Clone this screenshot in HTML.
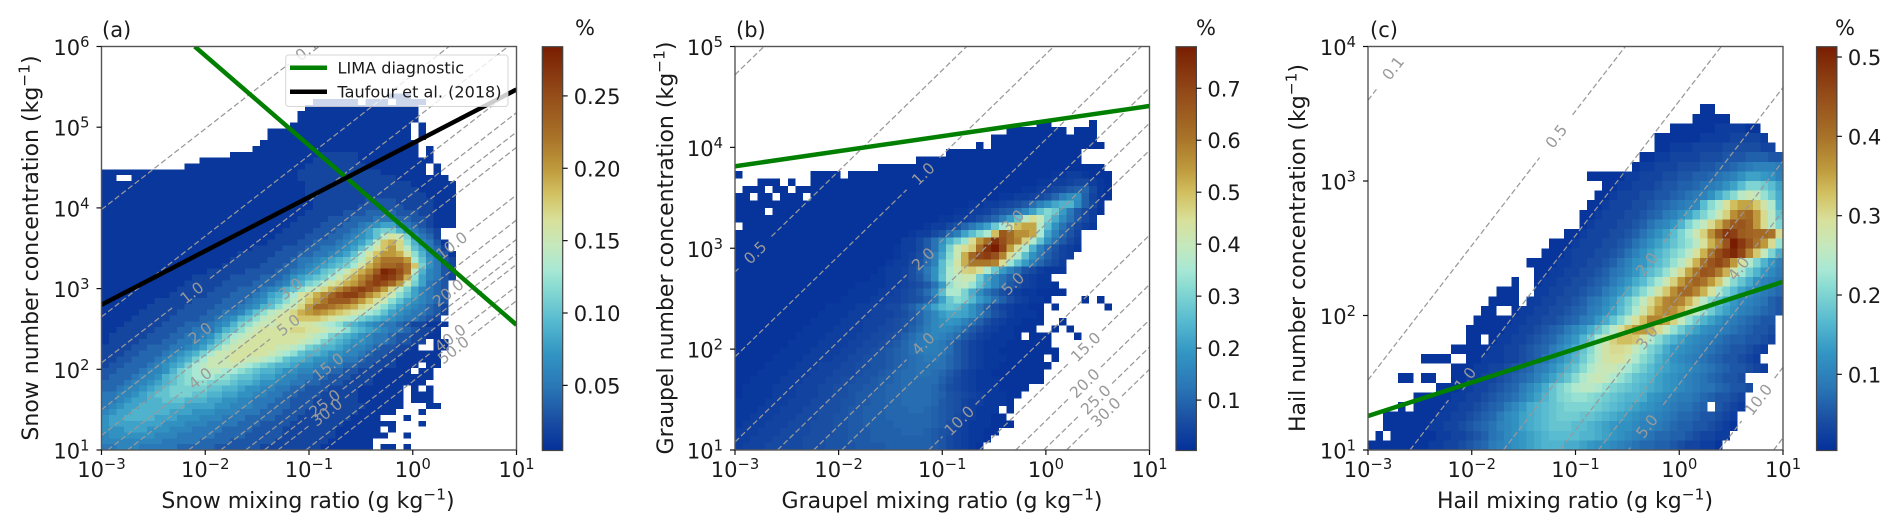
<!DOCTYPE html>
<html lang="en">
<head>
<meta charset="utf-8">
<title>Number concentration versus mixing ratio</title>
<style>
html,body{margin:0;padding:0;background:#fff;width:1892px;height:532px;overflow:hidden}
svg{display:block;filter:blur(.35px)}
text{font-family:"DejaVu Sans","Liberation Sans",sans-serif;fill:#1a1a1a}
</style>
</head>
<body>
<svg id="fig" xmlns="http://www.w3.org/2000/svg" width="1892" height="532" viewBox="0 0 1892 532">
  <defs>
    <clipPath id="clip-a"><rect x="101.5" y="46.5" width="415" height="403.5"/></clipPath>
    <clipPath id="clip-b"><rect x="735" y="46.5" width="414.5" height="403.5"/></clipPath>
    <clipPath id="clip-c"><rect x="1368" y="46.5" width="415" height="403.5"/></clipPath>
  </defs>
  <g id="panel-a"></g>
  <g id="panel-b"></g>
  <g id="panel-c"></g>

  <text x="102" y="37" font-size="21">(a)</text>
  <text x="736" y="37" font-size="21">(b)</text>
  <text x="1370" y="37" font-size="21">(c)</text>

  <text x="308" y="508" font-size="22" text-anchor="middle">Snow mixing ratio (g kg<tspan dy="-8.5" font-size="15.4">−1</tspan><tspan dy="8.5">)</tspan></text>
  <text x="942" y="508" font-size="22" text-anchor="middle">Graupel mixing ratio (g kg<tspan dy="-8.5" font-size="15.4">−1</tspan><tspan dy="8.5">)</tspan></text>
  <text x="1575" y="508" font-size="22" text-anchor="middle">Hail mixing ratio (g kg<tspan dy="-8.5" font-size="15.4">−1</tspan><tspan dy="8.5">)</tspan></text>

  <text transform="translate(38,248) rotate(-90)" font-size="22" text-anchor="middle">Snow number concentration (kg<tspan dy="-8.5" font-size="15.4">−1</tspan><tspan dy="8.5">)</tspan></text>
  <text transform="translate(673,248) rotate(-90)" font-size="22" text-anchor="middle">Graupel number concentration (kg<tspan dy="-8.5" font-size="15.4">−1</tspan><tspan dy="8.5">)</tspan></text>
  <text transform="translate(1305,248) rotate(-90)" font-size="22" text-anchor="middle">Hail number concentration (kg<tspan dy="-8.5" font-size="15.4">−1</tspan><tspan dy="8.5">)</tspan></text>

  <text x="575" y="35" font-size="21">%</text>
  <text x="1196" y="35" font-size="21">%</text>
  <text x="1835" y="35" font-size="21">%</text>

  <g id="legend">
    <rect x="285.7" y="55" width="222.3" height="51.5" rx="3" fill="#fff" fill-opacity=".8" stroke="#ccc" stroke-opacity=".8" stroke-width="1"/>
    <line x1="290" y1="67.7" x2="327" y2="67.7" stroke="#007f00" stroke-width="4.5"/>
    <text x="337.5" y="73.5" font-size="16.1">LIMA diagnostic</text>
    <line x1="290" y1="91.7" x2="327" y2="91.7" stroke="#000" stroke-width="4.5"/>
    <text x="337.5" y="97.5" font-size="16.1">Taufour et al. (2018)</text>
  </g>
</svg>

<script>
// ---------- shared values ----------
const xTickExponents = [-3, -2, -1, 0, 1];
const cmapStops = [
  [0, '#04309a'], [0.076, '#1a4fa3'], [0.158, '#2a77b6'], [0.24, '#3295c3'], [0.32, '#56bad0'],
  [0.406, '#8adcd2'], [0.447, '#a8e8d4'], [0.505, '#c4e8bd'], [0.57, '#d8e09a'], [0.637, '#d2c060'],
  [0.695, '#bf9b3d'], [0.777, '#a87228'], [0.876, '#954e1a'], [0.983, '#7d2505'], [1, '#7a1c02']
];

// ---------- panel (a) snow ----------
const snowYTickExponents = [1, 2, 3, 4, 5, 6];
const snowColorbarTicks = ['0.05', '0.10', '0.15', '0.20', '0.25'];
const snowLevels = [0.1, 0.5, 1, 2, 3, 4, 5, 10, 15, 20, 25, 30, 40, 50];
const snowContourLogN = [3.98, 2.65, 2.08, 1.5, 1.18, 0.94, 0.75, 0.16, -0.15, -0.39, -0.57, -0.7, -0.97, -1.15];
const snowLabelLogQ = [-1.02, null, -2.13, -2.05, -1.18, -2.05, -1.2, 0.374, -0.817, 0.34, -0.85, -0.83, 0.36, 0.39];
const snowLimaQ = [0.001, 10];
const snowLimaN = [10000000, 355];
const snowTaufourQ = [0.001, 10];
const snowTaufourN = [631, 293000];
const snowSpans = [
[[0,35],[37,38],[40,40]],[[0,35]],[[0,37],[40,40]],[[0,36],[38,38]],[[0,38],[42,42]],[[0,36],[40,40]],[[0,38],[42,42]],
[[0,39],[43,44]],[[0,39],[41,43]],[[0,39],[41,43]],[[0,39],[41,41],[43,43]],[[0,42]],[[0,43]],[[0,40],[42,43]],[[0,41],[43,44]],
[[0,44]],[[0,44]],[[0,41],[44,45]],[[0,42],[44,45]],[[0,44]],[[0,44]],[[0,45]],[[0,44]],[[0,45]],[[0,45]],[[0,45]],[[0,45]],[[0,45]],[[0,45]],
[[0,46]],[[0,46]],[[0,46]],[[0,46]],[[0,46]],[[0,45]],[[0,45]],[[0,44]],[[0,44]],
[[0,46]],[[0,46]],[[0,46]],[[0,46]],[[0,46]],[[0,46]],[[0,46]],[[0,46]],
[[0,1],[4,45]],[[0,42],[44,44]],[[11,42],[44,44]],[[13,43]],[[17,41],[43,43]],[[20,41],[43,43]],[[21,41]],
[[22,40],[42,42]],[[22,40],[42,42]],[[25,40],[42,42]],[[26,41]],[[26,41]],[[27,41]],
[[28,33],[35,37],[39,42]],[[38,40]]
];
const snowCore = [
[0,5,5,6,6,6,5,5,5,5,5,4,4,4,4,4,3,3,3,3,3,3,2,2,2,2,2,2,2,2],
[0,6,6,6,6,6,6,6,6,5,5,5,5,5,4,4,4,4,3,3,3,3,3,3,2,2,2,2,2,2,2],
[0,6,7,7,7,7,7,7,6,6,6,5,5,5,5,5,4,4,4,4,3,3,3,3,3,2,2,2,2,2,2,2],
[0,7,7,7,8,8,8,7,7,7,6,6,6,5,5,5,5,4,4,4,4,3,3,3,3,2,2,2,2,2,2,2],
[0,7,8,8,8,8,8,8,8,7,7,7,6,6,6,5,5,5,5,4,4,4,3,3,3,3,2,2,2,2,2,2,2],
[0,7,8,8,9,9,9,9,8,8,8,7,7,7,6,6,6,5,5,5,4,4,4,4,3,3,3,2,2,2,2,2,2,2],
[0,6,7,8,8,9,9,9,9,9,8,8,8,7,7,7,6,6,6,5,5,5,4,4,4,3,3,3,2,2,2,2,2,2,2],
[0,5,6,7,8,8,9,9,9,9,9,9,8,8,8,8,7,7,6,6,6,5,5,4,4,4,3,3,3,2,2,2,2,2,2,2],
[0,5,5,6,7,8,8,9,9,10,10,10,9,9,9,8,8,7,7,6,6,5,5,5,4,4,3,3,3,2,2,2,2,2,2],
[0,5,5,6,6,7,8,9,10,10,11,11,11,10,10,9,9,8,8,7,7,6,6,5,5,4,4,3,3,3,2,2,2,2,2],
[0,4,4,5,6,6,7,8,9,10,11,11,11,11,11,10,10,9,9,8,7,7,6,6,5,5,4,4,3,3,3,2,2,2,2],
[0,4,4,4,5,6,6,7,8,9,10,11,12,12,12,11,11,11,10,9,9,8,7,7,6,6,5,5,4,4,3,3,3,2,2,2,2],
[0,3,4,4,4,5,6,6,7,9,10,11,12,13,13,13,12,12,11,10,10,9,8,8,7,6,6,5,5,4,4,3,3,3,2,2,2],
[0,3,3,4,4,4,5,6,6,7,9,11,12,13,14,14,14,13,13,12,11,10,9,9,8,7,7,6,6,5,5,4,4,3,3,2,2,2],
[0,2,3,3,4,4,4,5,6,7,8,9,11,13,14,15,15,15,15,14,13,12,11,10,9,9,8,7,7,6,6,5,5,4,4,3,3,2,2,2],
[0,2,2,3,3,4,4,4,5,6,7,8,9,11,13,15,15,15,16,16,15,15,14,13,12,10,9,9,8,7,7,6,6,5,5,4,3,3,2,2],
[0,2,2,2,3,3,4,4,4,5,6,7,8,9,11,13,15,15,16,16,16,16,16,15,14,13,12,10,9,9,8,7,7,6,6,5,4,3,3,2,2],
[0,2,2,2,2,3,3,4,4,4,5,5,6,7,8,10,12,14,15,16,16,16,16,16,15,15,14,13,11,10,9,9,8,7,6,6,5,4,3,3,2,2],
[1,2,2,2,2,3,3,3,4,4,5,5,6,7,8,10,12,14,15,16,16,16,16,16,16,16,15,14,13,11,10,9,8,7,7,6,5,5,4,3,3,2,2],
[1,2,2,2,2,2,3,3,3,4,4,5,5,6,7,9,11,13,14,15,16,16,16,16,16,16,16,15,14,13,11,10,9,8,7,6,5,5,4,3,3,2,2],
[2,2,2,2,2,2,3,3,3,4,4,5,5,5,7,9,10,12,14,15,16,16,16,16,17,17,16,16,15,14,13,12,10,9,8,7,6,5,5,4,3,2,2],
[3,2,2,2,2,2,3,3,3,4,4,4,5,6,7,9,11,12,14,15,15,16,16,16,16,16,15,14,13,12,10,9,8,7,6,5,5,4,3,2,2],
[4,2,2,2,2,2,3,3,3,3,4,4,5,6,7,9,10,12,14,15,16,16,17,18,18,18,17,16,15,14,13,11,10,9,8,7,6,5,5,4,3,2,2],
[5,2,2,2,2,2,3,3,3,3,4,4,5,5,6,8,10,12,14,15,16,17,19,20,21,20,19,18,17,16,15,13,12,10,8,7,6,5,5,4,3,2,2],
[6,2,2,2,2,2,3,3,3,3,4,4,4,5,6,7,9,10,12,14,15,17,20,23,23,22,21,20,19,17,16,14,12,10,8,7,6,5,4,3,2],
[7,2,2,2,2,2,3,3,3,3,4,4,4,5,6,7,9,10,12,14,16,18,20,22,24,24,24,22,20,18,16,15,12,10,8,7,6,5,4,3],
[9,2,2,2,2,2,3,3,3,4,4,4,5,6,8,9,11,13,16,17,19,21,23,25,26,26,24,21,19,17,15,12,10,8,6,5,4,3],
[10,2,2,2,2,2,3,3,3,4,4,4,5,6,7,9,10,12,14,15,17,19,21,23,25,26,25,23,20,17,14,11,8,6,5,4,3],
[11,2,2,2,2,2,3,3,3,3,4,4,4,5,6,8,9,11,12,14,16,17,19,20,22,25,26,25,23,20,15,11,8,5,4,3,2],
[12,2,2,2,2,2,3,3,3,3,4,4,4,5,7,8,9,10,11,13,15,17,19,21,23,26,27,26,24,19,12,8,6,5,3,2],
[14,2,2,2,2,2,3,3,3,3,4,4,5,6,7,8,10,11,13,15,17,19,21,24,28,27,25,22,14,9,6,5,3,2],
[16,2,2,2,2,2,3,3,3,4,4,5,6,7,8,9,10,11,13,16,19,21,23,23,24,22,18,11,7,5,3,2],
[17,2,2,2,2,2,3,3,3,4,5,5,6,7,8,9,10,12,14,17,20,22,22,22,20,13,10,7,5,3,2],
[18,2,2,2,2,2,3,3,3,4,4,5,5,6,7,8,10,13,16,18,20,20,19,16,12,9,6,4,3],
[20,2,2,2,2,3,3,3,4,4,5,5,6,7,8,10,13,16,18,20,17,14,10,8,5,4,2],
[22,2,2,2,2,3,3,4,4,4,5,6,7,8,10,14,18,19,17,12,9,6,5,3],
[23,2,2,2,2,3,3,3,4,4,5,6,7,8,10,14,16,15,11,7,5,4,2],
[24,2,2,2,2,3,3,3,4,4,5,6,8,10,11,11,9,7,5,4,3,2],
[25,2,2,2,2,3,3,3,4,4,5,6,7,8,8,6,5,4,3,2],
[26,2,2,2,2,3,3,3,4,4,4,5,5,5,4,4,3,3,2],
[27,2,2,2,2,2,3,3,3,4,4,4,4,3,3,3,2,2],
[28,2,2,2,2,2,2,3,3,3,3,3,3,2,2,2,2],
[28,2,2,2,2,2,2,2,3,3,3,3,2,2,2,2,2],
[27,2,2,2,2,2,2,2,2,2,2,2,2,2,2,2,2],
[27,2,2,2,2,2,2,2,2,2,2,2,2,2,2,2],
[27,2,2,2,2,2,2,2,2,2,2,2,2,2,2],
[26,2,2,2,2,2,2,2,2,2,2,2,2,2],
[26,2,2,2,2,2,2,2,2,2,2,2],
[27,2,2,2,2,2,2,2,2],
[28,2,2,2,2,2,2],
[29,2,2,2,2,2]
];

// ---------- panel (b) graupel ----------
const graupelYTickExponents = [1, 2, 3, 4, 5];
const graupelColorbarTicks = ['0.1', '0.2', '0.3', '0.4', '0.5', '0.6', '0.7'];
const graupelLevels = [0.1, 0.5, 1, 2, 3, 4, 5, 10, 15, 20, 25, 30];
const graupelContourLogN = [4.72, 2.765, 1.924, 1.08, 0.59, 0.24, -0.03, -0.87, -1.36, -1.71, -1.98, -2.2];
const graupelLabelLogQ = [null, -2.807, -1.185, -1.185, -0.32, -1.185, -0.32, -0.838, 0.383, 0.373, 0.48, 0.576];
const graupelLimaQ = [0.001, 10];
const graupelLimaN = [6500, 25700];
const graupelSpans = [
[[0,32]],[[0,33]],[[0,34]],[[0,36]],[[0,35]],[[0,34],[36,36]],[[0,36]],[[0,37]],[[0,38]],[[0,40]],[[0,40]],[[0,41]],
[[0,40],[42,42]],[[0,42]],[[0,41]],[[0,37],[39,41],[45,45]],[[0,39],[42,42],[44,44]],[[0,40],[43,43]],[[0,40]],[[0,40],[42,42],[49,49]],
[[0,41],[46,46],[48,48]],[[0,43]],[[0,42]],[[0,41]],[[0,43]],[[0,43]],[[0,44]],[[0,45]],[[0,45]],[[0,45]],[[1,47]],[[0,47]],
[[0,3],[5,48]],[[0,48]],[[0,1],[3,4],[6,8],[10,49]],[[1,3],[5,6],[8,49]],[[3,5],[7,7],[10,49]],[[0,0],[10,12],[13,13],[15,49]],
[[19,48]],[[24,45]],[[28,45]],[[32,32],[34,46],[47,48]],[[34,43],[44,47]],[[36,43],[45,47]],[[40,41],[47,47]]
];
const graupelCore = [
[0,3,4,4,4,5,5,5,5,5,6,6,6,7,7,7,7,8,8,8,8,9,9,9,9,9,9,8,7,5,4,3,2],
[0,3,3,4,4,4,5,5,5,5,6,6,6,7,7,7,8,8,8,9,9,9,9,9,9,9,9,8,7,5,4,3,2,2],
[0,3,3,3,4,4,4,5,5,5,5,6,6,6,7,7,8,8,8,9,9,9,9,10,10,10,9,8,7,6,4,3,2,2],
[0,2,3,3,3,4,4,4,5,5,5,6,6,6,7,7,8,8,9,9,9,9,10,10,10,10,10,9,8,6,5,3,2,2,2],
[0,2,2,3,3,3,4,4,4,5,5,5,6,6,7,7,8,8,9,9,9,10,10,10,10,10,10,9,8,7,5,4,3,2,2],
[0,2,2,2,3,3,3,4,4,4,5,5,6,6,6,7,8,8,9,9,9,10,10,10,11,11,10,9,8,7,6,4,3,2,2,2],
[0,2,2,2,2,3,3,3,4,4,4,5,5,6,6,7,7,8,8,9,9,10,10,11,11,11,11,10,8,7,6,4,3,3,2,2,2],
[0,1,2,2,2,2,3,3,3,4,4,4,5,5,6,6,7,8,8,9,9,10,10,11,11,11,11,10,9,7,6,5,4,3,2,2,2],
[1,2,2,2,2,3,3,3,4,4,4,5,5,6,6,7,7,8,8,9,10,10,11,11,11,11,10,8,6,5,4,3,2,2,2],
[2,2,2,2,2,3,3,3,4,4,4,5,5,6,6,7,7,8,9,9,10,11,11,11,11,11,9,7,5,4,3,2,2,2],
[3,2,2,2,2,3,3,3,4,4,4,5,5,5,6,7,7,8,9,10,11,11,12,12,11,10,8,6,4,3,2,2],
[4,2,2,2,2,3,3,3,4,4,4,5,5,6,6,7,7,8,9,10,11,12,12,12,12,10,8,6,4,3,2,2],
[5,2,2,2,2,3,3,3,3,4,4,5,5,6,7,7,8,9,10,11,12,13,13,12,10,8,6,4,3,2,2,2],
[6,2,2,2,2,3,3,3,3,4,4,5,5,6,7,8,9,10,12,13,14,14,13,11,8,6,4,3,2,2],
[7,2,2,2,2,3,3,3,3,4,4,5,5,6,7,8,10,12,13,14,14,13,11,8,6,4,3,2,2,2],
[8,2,2,2,2,3,3,3,3,4,4,5,5,6,7,9,11,13,15,16,15,13,11,8,6,4,3,2,2,2],
[9,2,2,2,2,3,3,3,3,4,4,5,5,6,7,9,11,14,16,17,16,14,11,8,6,4,3,2,2],
[10,2,2,2,2,3,3,3,4,4,4,5,6,7,8,10,13,16,18,19,18,15,12,9,6,4,3,2,2],
[11,2,2,2,2,3,3,3,4,4,4,5,6,8,10,13,16,20,22,22,21,18,14,10,7,5,3,2,2,2],
[12,2,2,2,2,3,3,4,4,5,5,7,9,12,16,21,25,27,26,22,18,13,9,6,4,3,2,2],
[14,2,2,2,2,3,3,4,4,5,6,7,9,13,21,28,32,30,25,20,16,12,9,6,4,3,2,2],
[15,2,2,2,2,3,3,4,5,6,8,11,16,26,36,36,30,23,17,12,9,6,4,3,2,2],
[16,2,2,2,2,3,3,4,5,6,8,12,20,33,38,39,34,27,21,16,12,8,6,4,3,2,2],
[18,2,2,3,3,4,6,8,12,18,27,36,39,41,41,29,22,16,12,9,6,4,3,2,2],
[19,2,3,3,4,6,9,13,18,26,36,41,47,48,45,36,28,20,15,11,7,5,3,2,2,2],
[20,2,3,3,5,7,11,15,26,34,43,52,60,60,60,58,45,34,26,20,14,10,7,5,3,2,2],
[21,2,3,4,6,10,15,22,32,41,52,63,70,72,68,58,45,37,26,18,13,9,6,4,3,2],
[21,2,3,3,5,8,12,20,30,41,45,48,62,74,78,70,54,45,35,24,15,10,7,4,3,2],
[22,3,3,5,8,12,18,24,29,34,45,55,62,74,68,62,58,47,37,27,18,12,8,5,3,2],
[23,2,3,3,5,7,11,14,21,26,31,36,50,66,62,56,56,53,35,22,15,10,7,4,3],
[25,2,3,3,5,7,10,13,17,21,28,35,42,50,53,53,37,26,18,12,8,5,3,2],
[27,2,2,3,3,4,6,8,10,14,20,27,38,45,40,30,23,17,12,8,5,3],
[29,2,2,3,3,4,6,8,9,12,16,21,27,31,28,20,13,8,5,3],
[31,2,2,3,3,4,5,6,8,11,15,18,22,24,24,17,9,5,2],
[35,2,2,3,3,4,5,7,10,14,17,18,9,4,2],
[38,2,2,3,4,5,6,8,9,10,5,2],
[40,2,2,3,3,4,5,5,3,2],
[42,2,2,3,3,2]
];

// ---------- panel (c) hail ----------
const hailYTickExponents = [1, 2, 3, 4];
const hailColorbarTicks = ['0.1', '0.2', '0.3', '0.4', '0.5'];
const hailLevels = [0.1, 0.5, 1, 2, 3, 4, 5, 10, 15];
const hailContourLogN = [3.6, 1.52, 0.595, -0.305, -0.851, -1.221, -1.51, -2.385, -2.91];
const hailLabelLogQ = [-2.76, -1.187, -2.065, -0.313, -0.313, 0.571, -0.313, 0.76, null];
const hailLimaQ = [0.001, 10];
const hailLimaN = [17.9, 178];
const hailSpans = [
[[0,46]],[[1,1],[3,47]],[[2,48]],[[2,48]],[[4,4],[6,44],[46,49]],[[6,49]],[[9,50]],[[4,5],[7,8],[11,49]],[[11,52]],
[[7,8],[9,10],[13,51]],[[11,12],[13,52]],[[13,14],[16,53]],[[13,53]],[[14,53]],[[15,16],[19,54]],[[16,19],[21,54]],
[[17,18],[19,19],[22,54]],[[19,19],[22,54]],[[22,54]],[[21,54]],[[23,54]],[[24,54]],[[26,54]],[[28,54]],[[28,54]],[[29,54]],
[[30,54]],[[31,54]],[[29,31],[32,54]],[[35,54]],[[36,54]],[[38,53]],[[38,52]],[[40,49],[50,51]],[[43,45],[46,47]],[[44,45]]
];
const hailCore = [
[8,2,2,3,3,4,5,6,7,9,10,11,12,13,14,15,16,16,16,15,15,14,13,12,12,11,10,9,8,7,7,6,6,5,4,3,3,2,2],
[9,2,2,3,3,4,5,6,8,9,11,12,13,14,15,16,17,17,17,17,16,16,15,14,13,12,11,10,9,8,7,7,6,6,5,4,3,3,2,2],
[8,2,2,3,3,4,5,6,7,8,10,11,12,14,15,16,17,18,18,18,17,17,16,15,14,13,12,12,11,10,10,9,8,7,6,6,5,5,4,3,2],
[9,2,2,3,3,4,5,6,7,9,11,12,14,15,16,17,18,19,19,19,18,18,17,16,15,14,13,12,11,11,10,9,8,7,7,6,5,5,4,3,2],
[10,2,2,3,3,4,5,6,7,9,11,13,15,16,17,18,19,20,20,20,20,19,18,17,16,15,14,13,12,11,10,9,8,8,7,6,6,5,4,3,2],
[11,2,2,3,3,4,5,6,7,8,10,12,14,16,18,20,21,22,22,21,20,19,18,17,16,16,15,13,12,11,10,9,9,8,7,6,5,5,4,3,2],
[12,2,2,3,3,4,5,6,7,9,11,13,15,18,20,22,24,25,25,24,22,20,19,18,17,16,15,14,13,12,11,10,9,8,8,7,6,5,5,4,3,2],
[13,2,2,3,3,4,5,6,7,8,10,12,14,16,18,21,24,26,27,26,24,22,20,18,17,16,14,13,12,11,10,9,8,7,6,5,5,4,3,2],
[14,2,2,3,3,4,5,6,7,9,10,12,14,16,18,21,24,26,27,27,25,23,21,19,17,15,14,13,12,11,10,9,8,7,6,5,5,4,3,2],
[15,2,2,2,3,3,4,5,6,8,10,12,14,16,19,22,25,28,29,29,27,24,21,19,16,14,12,11,10,9,8,7,6,5,5,4,3,2],
[16,2,2,3,3,4,5,6,7,9,11,13,15,18,21,25,28,30,30,29,26,23,20,18,15,13,12,11,10,9,8,7,6,5,5,4,3,2],
[17,2,2,3,3,4,5,6,7,9,11,13,16,19,23,27,31,33,33,32,28,24,21,18,16,14,12,11,10,9,8,7,6,6,5,5,4,3,2],
[18,2,2,3,3,4,5,6,7,9,11,13,15,18,21,25,29,33,36,36,34,30,26,22,19,16,14,12,11,10,9,8,7,6,5,5,4],
[19,2,2,3,3,4,4,5,6,7,9,10,13,15,18,21,25,29,33,38,38,35,31,26,22,19,16,14,12,10,9,8,7,6,5,5,4],
[20,2,2,3,3,4,4,5,6,7,9,10,12,14,17,20,24,28,32,36,38,37,34,30,26,22,19,16,14,12,10,9,8,7,6,5],
[21,2,2,3,3,4,4,5,6,8,9,11,13,16,19,22,26,30,34,38,39,38,34,30,25,21,18,15,13,11,10,9,8,6,5],
[22,2,2,3,3,4,4,5,6,7,9,11,13,15,18,21,24,28,32,37,41,41,38,34,29,24,20,17,14,12,10,9,8,7],
[23,2,2,3,3,4,4,5,6,7,9,11,13,15,17,20,23,27,31,36,40,42,40,36,32,26,21,18,15,12,10,9,8],
[24,2,2,3,3,4,4,5,6,8,9,11,13,15,17,19,22,26,30,35,40,44,43,39,34,28,23,19,16,13,11,9],
[25,2,2,3,3,4,4,5,6,8,10,12,13,15,17,19,22,25,29,34,40,44,46,43,36,29,24,20,16,13,10],
[26,2,3,3,3,4,4,5,6,8,10,12,14,16,18,20,22,25,29,34,40,45,48,50,46,38,32,26,20,15],
[27,2,3,3,3,4,4,5,6,8,10,12,14,16,18,20,22,25,29,34,38,44,52,48,44,40,36,30,22],
[28,2,3,3,3,4,4,5,6,8,10,12,14,17,20,23,27,31,37,43,48,47,43,42,41,41,40,30],
[29,2,3,3,3,4,4,5,6,8,10,11,13,16,20,23,26,30,34,39,43,44,42,36,30,25,20],
[30,2,3,3,3,4,4,5,6,7,9,10,12,14,17,20,23,27,31,37,40,41,36,30,25,18],
[31,2,3,3,3,4,4,5,6,7,8,9,10,11,17,21,24,29,33,35,35,32,28,24,16],
[32,2,3,3,3,4,4,5,5,6,7,8,9,10,12,15,18,21,25,27,26,22,19,15],
[33,2,2,3,3,3,4,5,5,6,6,7,8,9,10,12,14,17,20,20,19,17,14],
[34,2,2,3,3,3,4,4,5,5,6,6,7,8,9,10,12,14,14,13,12,10],
[36,2,2,3,3,3,4,4,4,5,5,6,6,7,8,9,10,10,10,9],
[38,2,2,3,3,3,3,4,4,4,5,5,5,6,6,6,5,5],
[40,2,2,2,3,3,3,3,4,4,4,4,4,3,3],
[44,2,2,2,2,3,3,3,3,2],
[46,2,2,2,2]
];

// ---------- drawing ----------
const SVGNS = 'http://www.w3.org/2000/svg';

function make(tag, attrs, name, parent) {
  const el = document.createElementNS(SVGNS, tag);
  for (const k in attrs) el.setAttribute(k, attrs[k]);
  
  
  parent.appendChild(el);
  return el;
}

function hexRgb(h) {
  return [parseInt(h.substr(1, 2), 16), parseInt(h.substr(3, 2), 16), parseInt(h.substr(5, 2), 16)];
}

function cmap(t) {
  t = Math.max(0, Math.min(1, t));
  for (let i = 1; i < cmapStops.length; i++) {
    if (t <= cmapStops[i][0]) {
      const a = cmapStops[i - 1], b = cmapStops[i];
      const f = (t - a[0]) / (b[0] - a[0]);
      const ca = hexRgb(a[1]), cb = hexRgb(b[1]);
      return 'rgb(' + ca.map((v, k) => Math.round(v + (cb[k] - v) * f)).join(',') + ')';
    }
  }
  return cmapStops[cmapStops.length - 1][1];
}

function powerLabel(parent, x, y, exponent, anchor, name) {
  const t = make('text', { x: x, y: y, 'font-size': 21, 'text-anchor': anchor }, name, parent);
  t.appendChild(document.createTextNode('10'));
  const s = document.createElementNS(SVGNS, 'tspan');
  s.setAttribute('dy', '-8');
  s.setAttribute('font-size', '14.7');
  s.textContent = String(exponent).replace('-', '\u2212');
  t.appendChild(s);
  return t;
}

// clip a straight segment in log-log space to the axes box; null when wholly outside
function clipSegment(q0, n0, q1, n1, p) {
  let a = 0, b = 1;
  const dq = q1 - q0, dn = n1 - n0;
  const tests = [[-dq, q0 + 3], [dq, 1 - q0], [-dn, n0 - p.yMin], [dn, p.yMax - n0]];
  for (const [d, e] of tests) {
    if (d === 0) { if (e < 0) return null; continue; }
    const t = e / d;
    if (d < 0) a = Math.max(a, t); else b = Math.min(b, t);
  }
  if (a >= b) return null;
  return [q0 + dq * a, n0 + dn * a, q0 + dq * b, n0 + dn * b];
}

function drawPanel(p) {
  const root = document.getElementById(p.id);
  const X = logQ => p.left + (logQ + 3) / 4 * (p.right - p.left);
  const Y = logN => p.bottom - (logN - p.yMin) / (p.yMax - p.yMin) * (p.bottom - p.top);

  // heat map cells
  const cells = make('g', { 'shape-rendering': 'crispEdges' }, p.key + '-heatmap', root);
  const colStep = 4 / p.cols, rowStep = (p.yMax - p.yMin) / p.rows;
  p.spans.forEach((rowSpans, r) => {
    const core = p.core[r] || [0];
    rowSpans.forEach(span => {
      for (let c = span[0]; c <= span[1]; c++) {
        const idx = c - core[0] + 1;
        const v = (idx >= 1 && idx < core.length) ? core[idx] : 1;
        const x0 = X(-3 + c * colStep), x1 = X(-3 + (c + 1) * colStep);
        const y0 = Y(p.yMin + (r + 1) * rowStep), y1 = Y(p.yMin + r * rowStep);
        make('rect', {
          x: x0.toFixed(2), y: y0.toFixed(2),
          width: (x1 - x0).toFixed(2), height: (y1 - y0).toFixed(2),
          fill: cmap((v / 100 - p.vmin) / (p.vmax - p.vmin))
        }, p.key + '-heatmap-cell', cells);
      }
    });
  });

  // contours of constant mean diameter (slope 1 in log-log space)
  const cont = make('g', { 'clip-path': 'url(#clip-' + p.letter + ')' }, p.key + '-contours', root);
  const ratio = (p.bottom - p.top) / (p.yMax - p.yMin) / ((p.right - p.left) / 4);
  const angle = Math.atan(ratio);
  p.levels.forEach((level, i) => {
    const at = q => p.offsets[i] + (q + 3);
    const segs = [];
    const lq = p.labelQ[i];
    if (lq === null) {
      segs.push([-3, 1]);
    } else {
      const dq = p.gap * Math.cos(angle) / ((p.right - p.left) / 4);
      segs.push([-3, lq - dq], [lq + dq, 1]);
    }
    segs.forEach(s => {
      const seg = clipSegment(s[0], at(s[0]), s[1], at(s[1]), p);
      if (!seg) return;
      make('line', {
        x1: X(seg[0]).toFixed(2), y1: Y(seg[1]).toFixed(2),
        x2: X(seg[2]).toFixed(2), y2: Y(seg[3]).toFixed(2),
        stroke: '#999', 'stroke-width': 1.25, 'stroke-dasharray': '5.6 2.8'
      }, p.key + '-contour-line', cont);
    });
    if (lq !== null) {
      const cx = X(lq), cy = Y(at(lq));
      const t = make('text', {
        x: 0, y: 0, 'font-size': 15.5, 'text-anchor': 'middle', dy: '.36em',
        transform: 'translate(' + cx.toFixed(2) + ',' + cy.toFixed(2) + ') rotate(' + (-angle * 180 / Math.PI).toFixed(2) + ')',
        style: 'fill:#999'
      }, p.key + '-contour-label', cont);
      t.textContent = level.toFixed(1);
    }
  });

  // parameterisation lines
  const lines = make('g', { 'clip-path': 'url(#clip-' + p.letter + ')' }, p.key + '-fit-lines', root);
  p.fits.forEach(f => {
    const seg = clipSegment(Math.log10(f.q[0]), Math.log10(f.n[0]), Math.log10(f.q[1]), Math.log10(f.n[1]), p);
    if (!seg) return;
    make('line', {
      x1: X(seg[0]), y1: Y(seg[1]),
      x2: X(seg[2]), y2: Y(seg[3]),
      stroke: f.color, 'stroke-width': 4.5
    }, f.name, lines);
  });

  // frame
  make('rect', {
    x: p.left, y: p.top, width: p.right - p.left, height: p.bottom - p.top,
    fill: 'none', stroke: '#555', 'stroke-width': 1.4
  }, p.key + '-axes-frame', root);

  // x ticks
  xTickExponents.forEach(e => {
    const x = X(e);
    make('line', { x1: x, x2: x, y1: p.bottom, y2: p.bottom + 5, stroke: '#111', 'stroke-width': 1.2 }, p.key + '-x-tick', root);
    powerLabel(root, x, 477, e, 'middle', p.key + '-x-tick-label');
  });
  // y ticks
  p.yTicks.forEach(e => {
    const y = Y(e);
    make('line', { x1: p.left - 5, x2: p.left, y1: y, y2: y, stroke: '#111', 'stroke-width': 1.2 }, p.key + '-y-tick', root);
    powerLabel(root, p.left - 12, y + 8.5, e, 'end', p.key + '-y-tick-label');
  });

  // colorbar
  const gradId = 'grad-' + p.letter;
  const grad = make('linearGradient', { id: gradId, x1: 0, y1: 1, x2: 0, y2: 0 }, p.key + '-colorbar-gradient', root);
  cmapStops.forEach(s => {
    make('stop', { offset: s[0], 'stop-color': s[1] }, p.key + '-colorbar-stop', grad);
  });
  const cbTop = 46.7, cbBottom = 450.5;
  make('rect', {
    x: p.cbLeft, y: cbTop, width: p.cbWidth, height: cbBottom - cbTop,
    fill: 'url(#' + gradId + ')', stroke: '#444', 'stroke-width': 1.2
  }, p.key + '-colorbar', root);
  p.cbTicks.forEach(label => {
    const y = cbBottom - (parseFloat(label) - p.vmin) / (p.vmax - p.vmin) * (cbBottom - cbTop);
    const xr = p.cbLeft + p.cbWidth;
    make('line', { x1: xr, x2: xr + 5, y1: y, y2: y, stroke: '#111', 'stroke-width': 1.2 }, p.key + '-colorbar-tick', root);
    const t = make('text', { x: xr + 11, y: y + 8, 'font-size': 21 }, p.key + '-colorbar-tick-label', root);
    t.textContent = label;
  });
}

drawPanel({
  id: 'panel-a', key: 'snow', letter: 'a', left: 101.5, right: 516.5, top: 46.5, bottom: 450,
  yMin: 1, yMax: 6, cols: 55, rows: 69, vmin: 0.005, vmax: 0.284, gap: 23,
  spans: snowSpans, core: snowCore, levels: snowLevels, offsets: snowContourLogN, labelQ: snowLabelLogQ,
  yTicks: snowYTickExponents, cbTicks: snowColorbarTicks, cbLeft: 542.3, cbWidth: 20.4,
  fits: [
    { q: snowLimaQ, n: snowLimaN, color: '#007f00', name: 'snow-lima-line' },
    { q: snowTaufourQ, n: snowTaufourN, color: '#000', name: 'snow-taufour-line' }
  ]
});
drawPanel({
  id: 'panel-b', key: 'graupel', letter: 'b', left: 735, right: 1149.5, top: 46.5, bottom: 450,
  yMin: 1, yMax: 5, cols: 55, rows: 55, vmin: 0.003, vmax: 0.78, gap: 23,
  spans: graupelSpans, core: graupelCore, levels: graupelLevels, offsets: graupelContourLogN, labelQ: graupelLabelLogQ,
  yTicks: graupelYTickExponents, cbTicks: graupelColorbarTicks, cbLeft: 1176, cbWidth: 20.4,
  fits: [{ q: graupelLimaQ, n: graupelLimaN, color: '#007f00', name: 'graupel-lima-line' }]
});
drawPanel({
  id: 'panel-c', key: 'hail', letter: 'c', left: 1368, right: 1783, top: 46.5, bottom: 450,
  yMin: 1, yMax: 4, cols: 55, rows: 42, vmin: 0.004, vmax: 0.513, gap: 27,
  spans: hailSpans, core: hailCore, levels: hailLevels, offsets: hailContourLogN, labelQ: hailLabelLogQ,
  yTicks: hailYTickExponents, cbTicks: hailColorbarTicks, cbLeft: 1816.5, cbWidth: 20.4,
  fits: [{ q: hailLimaQ, n: hailLimaN, color: '#007f00', name: 'hail-lima-line' }]
});

// keep the legend above panel (a)
const fig = document.getElementById('fig');
fig.appendChild(document.getElementById('legend'));
</script>
</body>
</html>
